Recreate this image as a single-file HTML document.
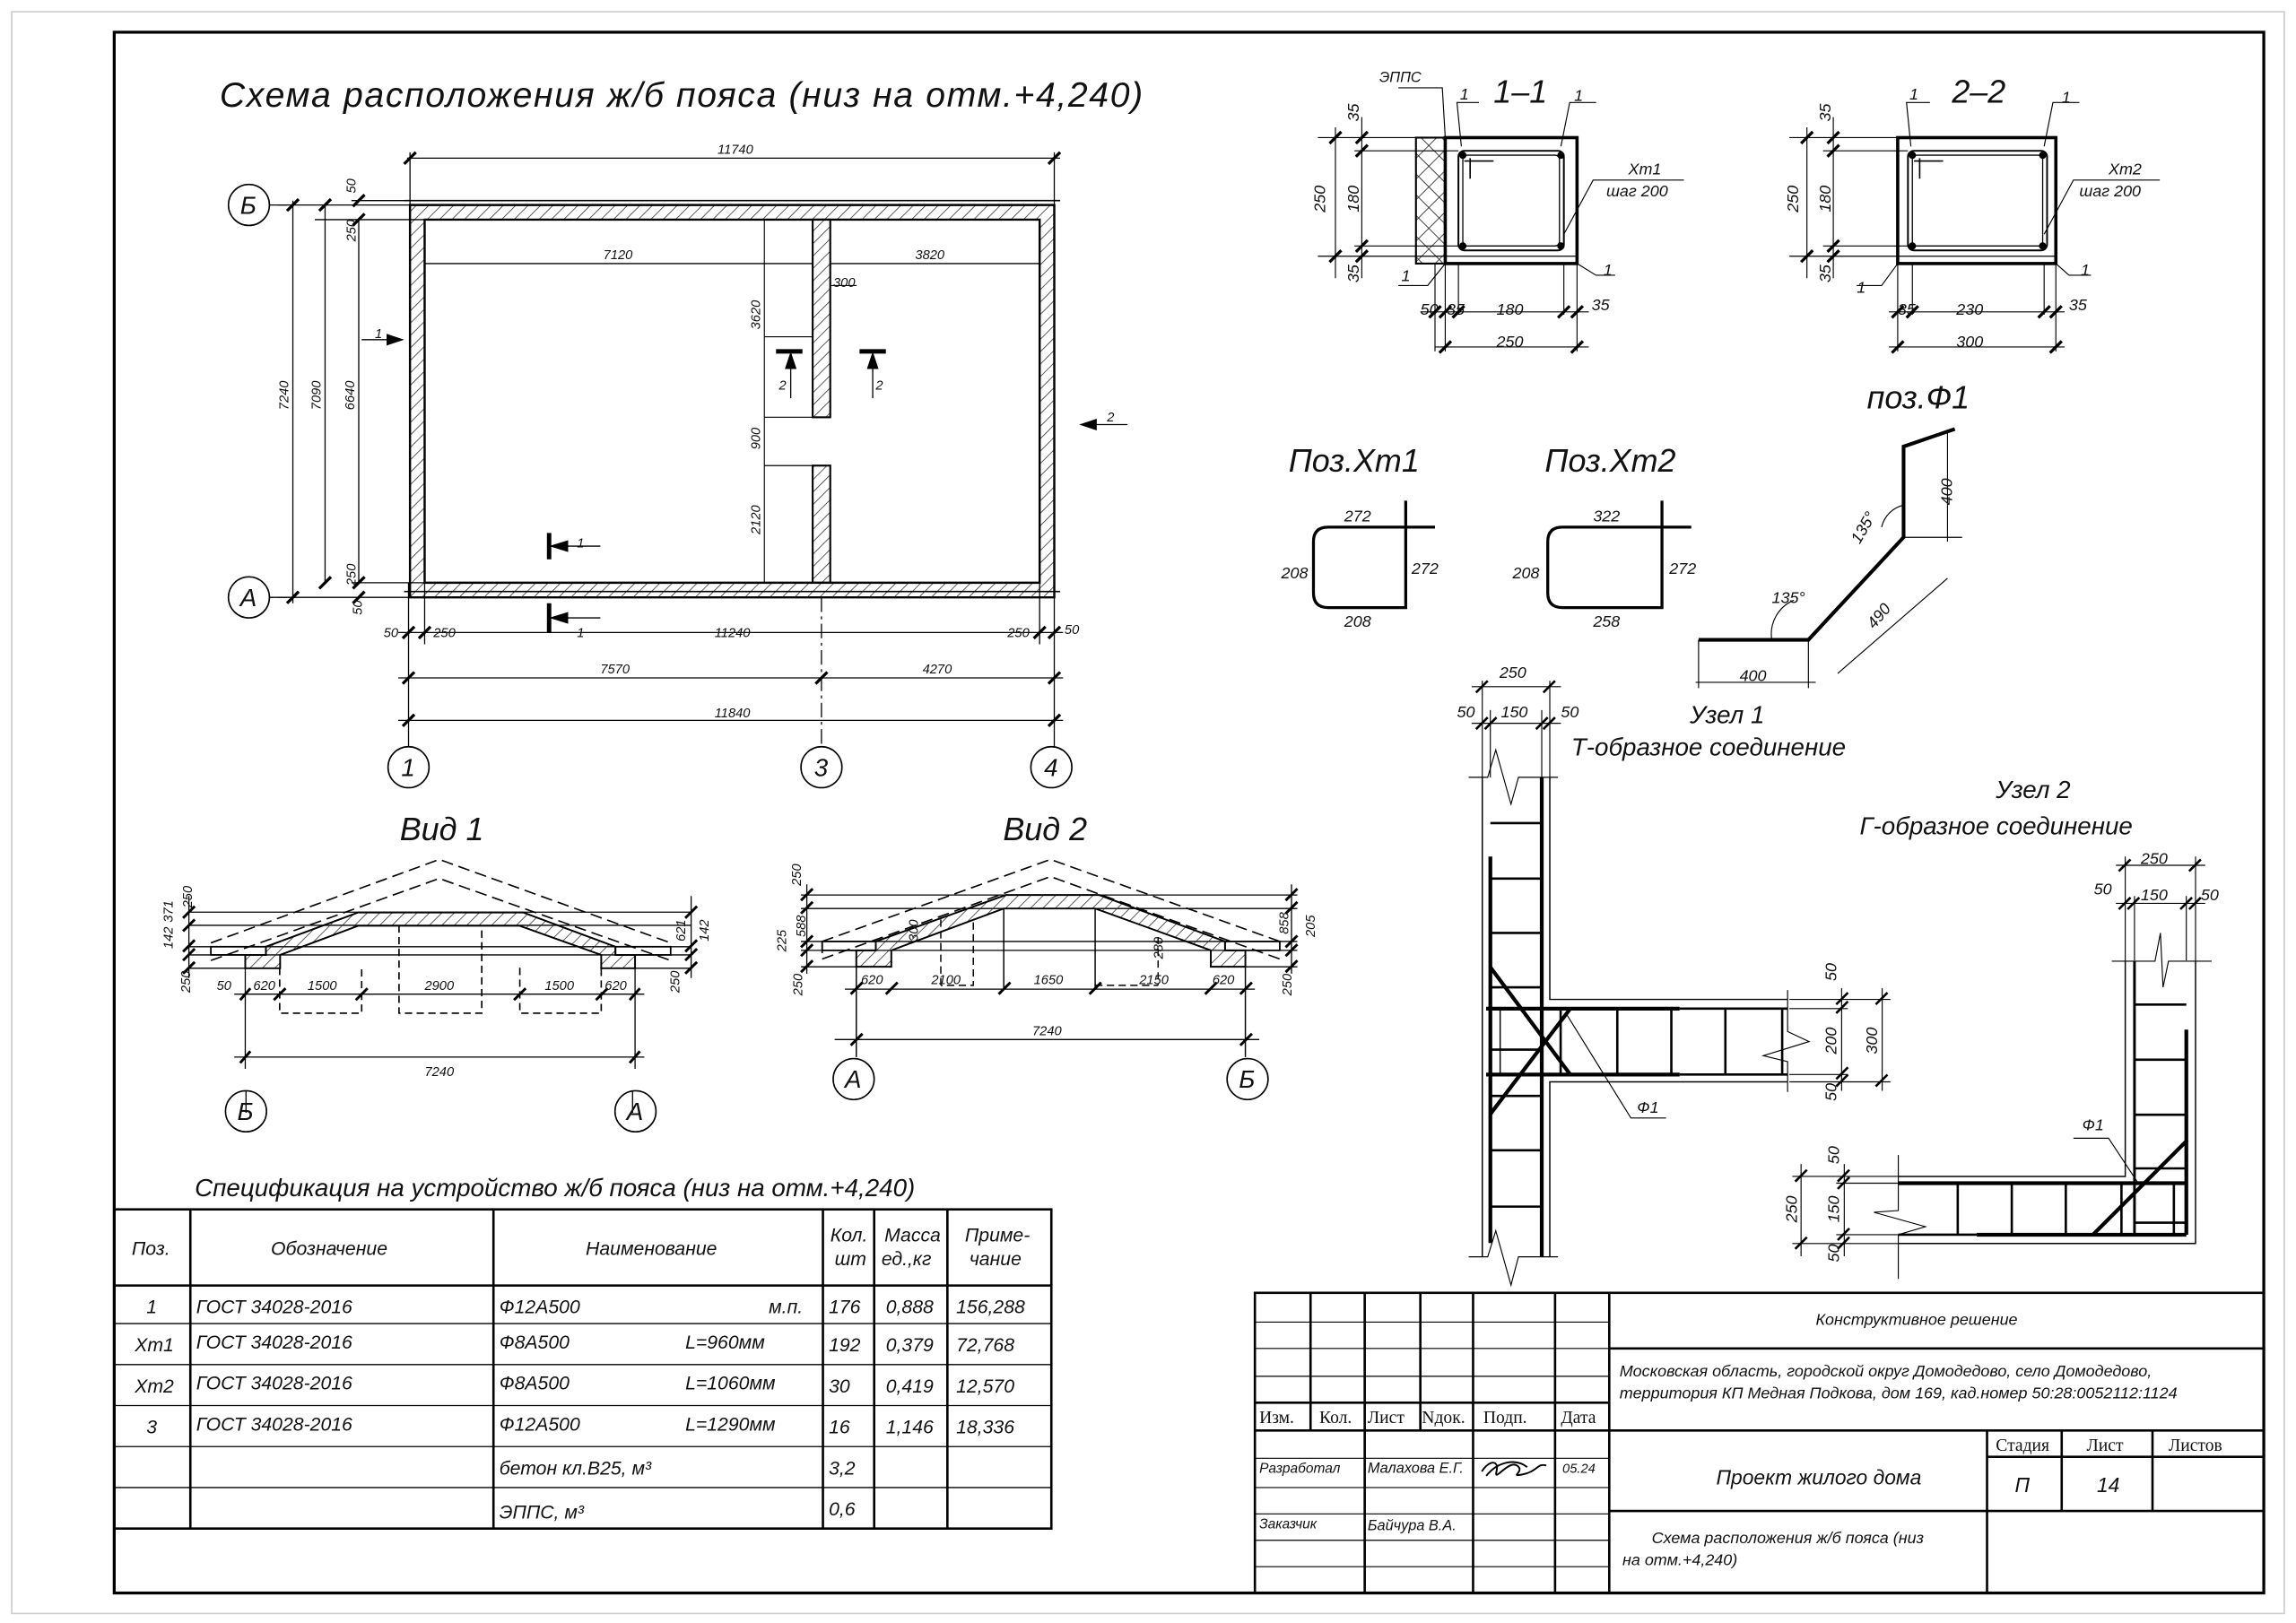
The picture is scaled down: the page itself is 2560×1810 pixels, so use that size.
<!DOCTYPE html>
<html><head><meta charset="utf-8"><style>
html,body{margin:0;padding:0;background:#fff}
svg{display:block}
text{font-family:"Liberation Sans",sans-serif;font-style:italic;fill:#111}
</style></head><body>
<svg width="2560" height="1810" viewBox="0 0 1568 1108.5" preserveAspectRatio="none" xmlns="http://www.w3.org/2000/svg">
<defs>
<pattern id="h" width="6" height="6" patternUnits="userSpaceOnUse" patternTransform="rotate(45)"><line x1="0" y1="0" x2="0" y2="6" stroke="#222" stroke-width="0.9"/></pattern>
<pattern id="x" width="10" height="10" patternUnits="userSpaceOnUse" patternTransform="rotate(45)"><path d="M0 0V10M0 0H10" stroke="#222" stroke-width="1"/></pattern>
</defs>
<rect x="0" y="0" width="1568" height="1108.5" fill="#fff"/>
<rect x="8" y="8" width="1552" height="1094" fill="none" stroke="#ccc" stroke-width="1"/>
<rect x="78" y="22" width="1468" height="1066" fill="none" stroke="#000" stroke-width="2"/>

<!-- Title -->
<text x="150" y="73" font-size="24" letter-spacing="1">Схема расположения ж/б пояса (низ на отм.+4,240)</text>

<!-- PLAN -->
<g stroke="#000" fill="none">
<path d="M280 140H720V408H280Z M290 150H710V398H290Z" fill="url(#h)" fill-rule="evenodd" stroke-width="1.5"/>
<path d="M276 137H724" stroke-width="1"/>
<path d="M276 404H724" stroke-width="1"/>
<rect x="555" y="150" width="12" height="135" fill="url(#h)" stroke-width="1.3"/>
<rect x="555" y="318" width="12" height="80" fill="url(#h)" stroke-width="1.3"/>
<path d="M290 180H555M567 180H710" stroke-width="0.8"/>
<path d="M522 150V398M522 230H555M522 285H555M522 318H555" stroke-width="0.7"/>
<path d="M278 108H724M280 104V140M720 104V140" stroke-width="0.8"/>
<path d="M276 112L284 104M716 112L724 104" stroke-width="2"/>
<path d="M200 137V412M222 140V398M245 150V398M190 140H280M190 408H280M215 150H290M240 398H290M240 137H280" stroke-width="0.8"/>
<path d="M196 144L204 136M196 412L204 404M218 144L226 136M218 402L226 394M241 154L249 146M241 402L249 394M241 141L249 133M241 412L249 404" stroke-width="2"/>
<path d="M184 140H196M184 408H196" stroke-width="0.8"/>
<path d="M272 432H726M272 463H726M272 492H726" stroke-width="0.8"/>
<path d="M279 398V510M290 398V440M710 398V440M720 398V510" stroke-width="0.8"/>
<path d="M561 408V510" stroke-dasharray="10 3 2 3" stroke-width="0.8"/>
<path d="M275 436L283 428M286 436L294 428M706 436L714 428M716 436L724 428M275 467L283 459M557 467L565 459M716 467L724 459M275 496L283 488M716 496L724 488" stroke-width="2"/>
<circle cx="170" cy="140" r="14" stroke-width="1"/><circle cx="170" cy="408" r="14" stroke-width="1"/>
<circle cx="279" cy="524" r="14" stroke-width="1"/><circle cx="561" cy="524" r="14" stroke-width="1"/><circle cx="718" cy="524" r="14" stroke-width="1"/>
<path d="M375 364V382M375 412V432" stroke-width="3"/>
<path d="M378 373H410M378 422H410" stroke-width="0.8"/>
<path d="M375 373L388 369V377Z M375 422L388 418V426Z" fill="#000" stroke="none"/>
<path d="M530 240H548M587 240H605" stroke-width="3"/>
<path d="M540 240V272M596 240V272" stroke-width="0.8"/>
<path d="M540 240L536 252H544Z M596 240L592 252H600Z" fill="#000" stroke="none"/>
<path d="M247 232H275" stroke-width="0.8"/><path d="M276 232L264 228V236Z" fill="#000" stroke="none"/>
<path d="M738 290H770" stroke-width="0.8"/><path d="M737 290L749 286V294Z" fill="#000" stroke="none"/>
<path d="M567 195H585" stroke-width="0.7"/>
</g>
<g font-size="9">
<text x="490" y="105">11740</text>
<text x="412" y="177">7120</text><text x="625" y="177">3820</text>
<text x="569" y="196">300</text>
<text x="197" y="280" transform="rotate(-90 197 280)">7240</text>
<text x="219" y="280" transform="rotate(-90 219 280)">7090</text>
<text x="242" y="280" transform="rotate(-90 242 280)">6640</text>
<text x="243" y="165" transform="rotate(-90 243 165)">250</text>
<text x="243" y="132" transform="rotate(-90 243 132)">50</text>
<text x="243" y="400" transform="rotate(-90 243 400)">250</text>
<text x="247" y="420" transform="rotate(-90 247 420)">50</text>
<text x="519" y="225" transform="rotate(-90 519 225)">3620</text>
<text x="519" y="307" transform="rotate(-90 519 307)">900</text>
<text x="519" y="365" transform="rotate(-90 519 365)">2120</text>
<text x="262" y="435">50</text><text x="296" y="435">250</text><text x="488" y="435">11240</text><text x="688" y="435">250</text><text x="727" y="433">50</text>
<text x="410" y="460">7570</text><text x="630" y="460">4270</text><text x="488" y="490">11840</text>
<text x="394" y="374">1</text><text x="394" y="435">1</text><text x="532" y="266">2</text><text x="598" y="266">2</text>
<text x="256" y="231">1</text><text x="756" y="288">2</text>
</g>
<g font-size="17"><text x="164" y="146">Б</text><text x="164" y="414">А</text><text x="274" y="530">1</text><text x="556" y="530">3</text><text x="713" y="530">4</text></g>

<!-- Вид 1 -->
<text x="273" y="574" font-size="22">Вид 1</text>
<g stroke="#000" fill="none" stroke-width="1">
<path d="M144 644L300 587L458 644M144 656L300 600L458 656" stroke-dasharray="8 4"/>
<path d="M129 623H472M129 632H472M129 646.6H472M129 652.2H472M129 661.3H191M410 661.3H472" stroke-width="0.8"/>
<rect x="144" y="646.6" width="37.6" height="5.6" stroke-width="1.1"/>
<rect x="420.3" y="646.6" width="37.7" height="5.6" stroke-width="1.1"/>
<path d="M181.6 646.6L244.6 623.2H357.3L420.3 646.6V652.2H433.7V661.3H410.6V652.2L354.9 632.3H244.6L191.3 652.2V661.3H167.5V652.2H181.6Z" fill="url(#h)" stroke-width="1.2"/>
<path d="M191 661V692H247V661M272.5 632V692H329V632M355 661V692H410.6V661" stroke-dasharray="5 3"/>
<path d="M160 679H440M160 722H440M167.5 652V730M433.7 652V730M129 612V668M472 612V668M168 745V760M432 745V760" stroke-width="0.8"/>
<path d="M164 683L171 675M187 683L195 675M243 683L251 675M351 683L359 675M407 683L415 675M430 683L437 675M164 726L171 718M430 726L437 718" stroke-width="1.8"/>
<path d="M125 627L133 619M125 636L133 628M125 650L133 642M125 656L133 648M125 665L133 657M468 627L476 619M468 650L476 642M468 656L476 648M468 665L476 657" stroke-width="1.8"/>
</g>
<g font-size="9">
<text x="148" y="676">50</text><text x="173" y="676">620</text><text x="210" y="676">1500</text><text x="290" y="676">2900</text><text x="372" y="676">1500</text><text x="413" y="676">620</text>
<text x="290" y="735">7240</text>
<text x="131" y="620" transform="rotate(-90 131 620)">250</text><text x="118" y="630" transform="rotate(-90 118 630)">371</text><text x="118" y="648" transform="rotate(-90 118 648)">142</text><text x="130" y="678" transform="rotate(-90 130 678)">250</text>
<text x="468" y="643" transform="rotate(-90 468 643)">621</text><text x="484" y="643" transform="rotate(-90 484 643)">142</text><text x="464" y="678" transform="rotate(-90 464 678)">250</text>
</g>
<circle cx="168" cy="759" r="14" fill="none" stroke="#000"/><circle cx="434" cy="759" r="14" fill="none" stroke="#000"/>
<text x="162" y="765" font-size="17">Б</text><text x="428" y="765" font-size="17">А</text>

<!-- Вид 2 -->
<text x="685" y="574" font-size="22">Вид 2</text>
<g stroke="#000" fill="none" stroke-width="1">
<path d="M561.5 643L717.4 587L874 643M561.5 655L717.4 598.7L874 655M561.5 643V655" stroke-dasharray="8 4"/>
<path d="M547 611.3H886M547 620.5H886M547 643H886M547 649.1H886M547 660.3H608M827 660.3H886" stroke-width="0.8"/>
<rect x="561.5" y="643" width="36.6" height="6.1" stroke-width="1.1"/>
<rect x="836.6" y="643" width="37.4" height="6.1" stroke-width="1.1"/>
<path d="M598.1 643L686.9 611.3H750.7L836.6 643V649.1H850.5V660.3H826.9V649.1L747.9 620.5H685.5L608.7 649.1V660.3H584.8V649.1H598.1Z" fill="url(#h)" stroke-width="1.2"/>
<path d="M685.5 620.5V676M747.9 620.5V676M584.8 660V722M850.5 660V722" stroke-width="0.9"/>
<path d="M642.5 628V673M664.7 630V673H642.5M790.9 640V673M747.9 673H790.9" stroke-dasharray="5 3" stroke-width="0.9"/>
<path d="M577 675.6H857M570 710H860M551 604V665M882 604V665" stroke-width="0.8"/>
<path d="M581 679L589 671M605 679L613 671M682 679L690 671M744 679L752 671M823 679L831 671M847 679L855 671M581 714L589 706M847 714L855 706" stroke-width="1.8"/>
<path d="M547 615L555 607M547 624L555 616M547 647L555 639M547 653L555 645M547 664L555 656M878 615L886 607M878 624L886 616M878 647L886 639M878 653L886 645M878 664L886 656" stroke-width="1.8"/>
</g>
<g font-size="9">
<text x="588" y="672">620</text><text x="636" y="672">2100</text><text x="706" y="672">1650</text><text x="778" y="672">2150</text><text x="828" y="672">620</text>
<text x="705" y="707">7240</text>
<text x="547" y="605" transform="rotate(-90 547 605)">250</text><text x="550" y="640" transform="rotate(-90 550 640)">588</text><text x="537" y="650" transform="rotate(-90 537 650)">225</text><text x="548" y="680" transform="rotate(-90 548 680)">250</text>
<text x="880" y="638" transform="rotate(-90 880 638)">858</text><text x="898" y="640" transform="rotate(-90 898 640)">205</text><text x="882" y="680" transform="rotate(-90 882 680)">250</text>
<text x="627" y="643" transform="rotate(-90 627 643)">300</text><text x="794" y="655" transform="rotate(-90 794 655)">280</text>
</g>
<circle cx="583" cy="737" r="14" fill="none" stroke="#000"/><circle cx="852" cy="737" r="14" fill="none" stroke="#000"/>
<text x="577" y="743" font-size="17">А</text><text x="846" y="743" font-size="17">Б</text>

<!-- Spec table -->
<text x="133" y="817" font-size="17">Спецификация на устройство ж/б пояса (низ на отм.+4,240)</text>
<g stroke="#000" fill="none" stroke-width="1.6">
<rect x="78" y="826" width="640" height="218"/>
<path d="M78 878H718M130 826V1044M337 826V1044M562 826V1044M597 826V1044M647 826V1044"/>
</g>
<g stroke="#000" stroke-width="0.8"><path d="M78 904H718M78 932H718M78 960H718M78 988H718M78 1016H718"/></g>
<g font-size="13">
<text x="90" y="857">Поз.</text><text x="185" y="857">Обозначение</text><text x="400" y="857">Наименование</text>
<text x="567" y="848">Кол.</text><text x="570" y="864">шт</text><text x="604" y="848">Масса</text><text x="602" y="864">ед.,кг</text><text x="659" y="848">Приме-</text><text x="662" y="864">чание</text>
<text x="100" y="897">1</text><text x="134" y="897">ГОСТ 34028-2016</text><text x="341" y="897">Ф12А500</text><text x="525" y="897">м.п.</text><text x="566" y="897">176</text><text x="605" y="897">0,888</text><text x="653" y="897">156,288</text>
<text x="92" y="923">Хт1</text><text x="134" y="921">ГОСТ 34028-2016</text><text x="341" y="921">Ф8А500</text><text x="468" y="921">L=960мм</text><text x="566" y="923">192</text><text x="605" y="923">0,379</text><text x="653" y="923">72,768</text>
<text x="92" y="951">Хт2</text><text x="134" y="949">ГОСТ 34028-2016</text><text x="341" y="949">Ф8А500</text><text x="468" y="949">L=1060мм</text><text x="566" y="951">30</text><text x="605" y="951">0,419</text><text x="653" y="951">12,570</text>
<text x="100" y="979">3</text><text x="134" y="977">ГОСТ 34028-2016</text><text x="341" y="977">Ф12А500</text><text x="468" y="977">L=1290мм</text><text x="566" y="979">16</text><text x="605" y="979">1,146</text><text x="653" y="979">18,336</text>
<text x="341" y="1007">бетон кл.В25, м³</text><text x="566" y="1007">3,2</text>
<text x="341" y="1037">ЭППС, м³</text><text x="566" y="1035">0,6</text>
</g>

<!-- Section 1-1 -->
<g stroke="#000" fill="none">
<rect x="967" y="94" width="20" height="86" fill="url(#x)" stroke-width="1.3"/>
<rect x="987" y="94" width="90" height="86" stroke-width="2.2"/>
<rect x="996" y="103" width="72" height="68" rx="4" stroke-width="1.2"/>
<rect x="999" y="106" width="66" height="62" rx="3" stroke-width="0.8"/>
<path d="M1000 110H1020M1004 108V122" stroke-width="1"/>
<path d="M900 94H987M900 175H1077M925 103H996M925 168H996M912 87V190M930 80V190M980 180V240M987 180V240M1077 180V240M996 180V215M1068 180V215M970 213H1085M980 237H1085" stroke-width="0.7"/>
<path d="M1068 160L1088 123H1150" stroke-width="0.7"/>
<path d="M908 98L916 90M926 98L934 90M926 107L934 99M926 172L934 164M908 179L916 171M926 179L934 171M976 217L984 209M983 217L991 209M992 217L1000 209M1064 217L1072 209M1073 217L1081 209M983 241L991 233M1073 241L1081 233" stroke-width="2"/>
<path d="M955 60H985L987 94M998 100L995 70H1010M1066 100L1072 70H1090M1077 180L1090 188H1103M987 180L975 195H955" stroke-width="0.7"/>
</g>
<g fill="#000"><circle cx="999" cy="106" r="2.5"/><circle cx="1066" cy="106" r="2.5"/><circle cx="999" cy="168" r="2.5"/><circle cx="1066" cy="168" r="2.5"/></g>
<text x="1020" y="70" font-size="22">1–1</text><text x="942" y="56" font-size="10">ЭППС</text>
<g font-size="11"><text x="997" y="68">1</text><text x="1075" y="69">1</text><text x="1095" y="188">1</text><text x="957" y="192">1</text>
<text x="1112" y="119">Хт1</text><text x="1097" y="134">шаг 200</text>
<text x="905" y="145" transform="rotate(-90 905 145)">250</text><text x="928" y="145" transform="rotate(-90 928 145)">180</text><text x="928" y="83" transform="rotate(-90 928 83)">35</text><text x="928" y="193" transform="rotate(-90 928 193)">35</text>
<text x="970" y="215">50</text><text x="988" y="215">35</text><text x="1022" y="215">180</text><text x="1087" y="212">35</text><text x="1022" y="237">250</text></g>

<!-- Section 2-2 -->
<g stroke="#000" fill="none">
<rect x="1296" y="94" width="108" height="86" stroke-width="2.2"/>
<rect x="1303" y="103" width="95" height="68" rx="4" stroke-width="1.2"/>
<rect x="1306" y="106" width="89" height="62" rx="3" stroke-width="0.8"/>
<path d="M1307 110H1327M1311 108V122" stroke-width="1"/>
<path d="M1222 94H1296M1222 175H1404M1245 103H1303M1245 168H1303M1234 87V190M1252 80V190M1296 180V240M1306 180V215M1396 180V215M1404 180V240M1290 213H1410M1290 237H1410M1305 100L1302 70H1318M1396 100L1402 70H1420M1404 180L1413 188H1428M1296 180L1285 195H1268" stroke-width="0.7"/>
<path d="M1396 160L1416 123H1475" stroke-width="0.7"/>
<path d="M1230 98L1238 90M1248 98L1256 90M1248 107L1256 99M1248 172L1256 164M1230 179L1238 171M1248 179L1256 171M1292 217L1300 209M1302 217L1310 209M1392 217L1400 209M1400 217L1408 209M1292 241L1300 233M1400 241L1408 233" stroke-width="2"/>
</g>
<g fill="#000"><circle cx="1306" cy="106" r="2.5"/><circle cx="1395" cy="106" r="2.5"/><circle cx="1306" cy="168" r="2.5"/><circle cx="1395" cy="168" r="2.5"/></g>
<text x="1333" y="70" font-size="22">2–2</text>
<g font-size="11"><text x="1304" y="68">1</text><text x="1408" y="70">1</text><text x="1421" y="188">1</text><text x="1268" y="200">1</text>
<text x="1440" y="119">Хт2</text><text x="1420" y="134">шаг 200</text>
<text x="1228" y="145" transform="rotate(-90 1228 145)">250</text><text x="1250" y="145" transform="rotate(-90 1250 145)">180</text><text x="1250" y="83" transform="rotate(-90 1250 83)">35</text><text x="1250" y="193" transform="rotate(-90 1250 193)">35</text>
<text x="1296" y="215">35</text><text x="1336" y="215">230</text><text x="1413" y="212">35</text><text x="1336" y="237">300</text></g>

<!-- Поз Xt -->
<text x="880" y="322" font-size="22">Поз.Хт1</text><text x="1055" y="322" font-size="22">Поз.Хт2</text>
<text x="1275" y="279" font-size="22">поз.Ф1</text>
<g stroke="#000" fill="none" stroke-width="2">
<path d="M960 342V415H907Q897 415 897 405V370Q897 360 907 360H980"/>
<path d="M1135 342V415H1067Q1057 415 1057 405V370Q1057 360 1067 360H1155"/>
<path d="M1160 437H1235L1300 367V305L1335 293" stroke-width="2.5"/>
</g>
<g stroke="#000" fill="none" stroke-width="0.7">
<path d="M1160 437V470M1235 437V470M1158 466H1240M1300 367H1340M1330 295V370M1255 460L1330 395M1210 437A25 25 0 0 1 1225 410M1285 360A20 20 0 0 1 1300 345"/>
</g>
<g font-size="11">
<text x="918" y="356">272</text><text x="964" y="392">272</text><text x="875" y="395">208</text><text x="918" y="428">208</text>
<text x="1088" y="356">322</text><text x="1140" y="392">272</text><text x="1033" y="395">208</text><text x="1088" y="428">258</text>
<text x="1188" y="465">400</text><text x="1333" y="345" transform="rotate(-90 1333 345)">400</text>
<text x="1280" y="430" transform="rotate(-50 1280 430)">490</text>
<text x="1210" y="412">135°</text><text x="1270" y="372" transform="rotate(-60 1270 372)">135°</text>
</g>

<!-- Узел 1 -->
<text x="1154" y="494" font-size="17">Узел 1</text><text x="1073" y="516" font-size="17">Т-образное соединение</text>
<g stroke="#000" fill="none">
<path d="M1012.3 531V858M1058.4 531V682.6H1220.8M1058.4 858V738.9H1220.8" stroke-width="0.9"/>
<path d="M1003 530.9H1016L1021.5 512.2L1031.9 549.3L1037 530.9H1064M1003 858.4H1016L1021.5 840.6L1031.9 877.7L1037 858.4H1064" stroke-width="0.7"/>
<path d="M1220.8 676.2V704.5L1235.5 711.4L1204.2 721L1220.8 725.1V745.8" stroke-width="0.7"/>
<path d="M1017.8 585V849M1052.9 531V858" stroke-width="2.6"/>
<path d="M1017.8 562.2H1052.9M1017.8 600.1H1052.9M1017.8 637.2H1052.9M1017.8 674.3H1052.9M1017.8 716.9H1052.9M1017.8 748.5H1052.9M1017.8 785.6H1052.9M1017.8 824.1H1052.9" stroke-width="1.6"/>
<path d="M1014.9 688.9H1147M1014.9 733.9H1147" stroke-width="2.6"/>
<path d="M1147 688.9H1220.8M1147 733.9H1220.8M1065.8 688.9V733.9M1104.5 688.9V733.9M1141.4 688.9V733.9M1178.3 688.9V733.9M1217.1 688.9V733.9" stroke-width="1.6"/>
<path d="M1024.5 688.9V733.9" stroke-width="0.9"/>
<path d="M1017.8 660.6L1072.4 733.9M1017.8 760.9L1072.4 688.9" stroke-width="2.6"/>
<path d="M1069.5 692.2L1113.8 763.6H1137.8" stroke-width="0.7"/>
<path d="M1012.3 465V531M1017.8 485V531M1052.9 485V531M1058.4 465V531M1005 469H1066M1005 494H1066" stroke-width="0.7"/>
<path d="M1008 473L1016 465M1054 473L1062 465M1008 498L1016 490M1014 498L1022 490M1049 498L1057 490M1054 498L1062 490" stroke-width="1.6"/>
<path d="M1222 682.6H1291M1222 688.9H1262M1222 733.9H1262M1222 738.9H1291M1257.7 675V745M1285.4 675V745" stroke-width="0.7"/>
<path d="M1254 686L1262 678M1254 692L1262 684M1254 737L1262 729M1254 742L1262 734M1281 686L1289 678M1281 742L1289 734" stroke-width="1.6"/>
</g>
<g font-size="11"><text x="1024" y="463">250</text><text x="995" y="490">50</text><text x="1025" y="490">150</text><text x="1066" y="490">50</text>
<text x="1254" y="670" transform="rotate(-90 1254 670)">50</text><text x="1254" y="720" transform="rotate(-90 1254 720)">200</text><text x="1282" y="720" transform="rotate(-90 1282 720)">300</text><text x="1254" y="752" transform="rotate(-90 1254 752)">50</text><text x="1118" y="760">Ф1</text></g>

<!-- Узел 2 -->
<text x="1363" y="545" font-size="17">Узел 2</text><text x="1270" y="570" font-size="17">Г-образное соединение</text>
<g stroke="#000" fill="none">
<path d="M1451.4 656V803.5H1296.4M1499.4 656V849.3H1296.4" stroke-width="0.9"/>
<path d="M1442.2 656.5H1471.7L1475.4 637.2L1477.2 674.3L1480.9 656.5H1510.4" stroke-width="0.7"/>
<path d="M1296.4 788.9V826.8L1279.8 828L1314.9 837.8L1296.4 843.3V873.5" stroke-width="0.7"/>
<path d="M1457.7 656.5V843.3" stroke-width="1.8"/>
<path d="M1493.1 703.2V843.3M1296.4 808.1H1493.1M1350 843.3H1493.1" stroke-width="2.6"/>
<path d="M1296.4 843.3H1350" stroke-width="1.6"/>
<path d="M1457.7 686.1H1493.1M1457.7 723.8H1493.1M1457.7 761.4H1493.1M1457.7 798H1493.1M1457.7 835.1H1493.1M1337 808V843M1373.9 808V843M1410.8 808V843M1448.8 808V843M1484.6 808V843" stroke-width="1.6"/>
<path d="M1429.3 843.3L1493.8 778.7" stroke-width="2.6"/>
<path d="M1416 777.4H1440L1459.9 807.6" stroke-width="0.7"/>
<path d="M1451.4 585V656M1457.7 612V656M1493.1 612V656M1499.4 585V656M1445 591H1506M1445 617H1506" stroke-width="0.7"/>
<path d="M1447 595L1455 587M1495 595L1503 587M1447 621L1455 613M1453 621L1461 613M1489 621L1497 613M1495 621L1503 613" stroke-width="1.6"/>
<path d="M1224 803.5H1296M1254 808.1H1296M1254 843.3H1296M1224 849.3H1296M1230 795V858M1259.5 795V858" stroke-width="0.7"/>
<path d="M1226 807L1234 799M1226 853L1234 845M1255 807L1263 799M1255 812L1263 804M1255 847L1263 839M1255 853L1263 845" stroke-width="1.6"/>
</g>
<g font-size="11"><text x="1462" y="590">250</text><text x="1430" y="611">50</text><text x="1462" y="615">150</text><text x="1503" y="615">50</text>
<text x="1256" y="795" transform="rotate(-90 1256 795)">50</text><text x="1256" y="835" transform="rotate(-90 1256 835)">150</text><text x="1227" y="835" transform="rotate(-90 1227 835)">250</text><text x="1256" y="862" transform="rotate(-90 1256 862)">50</text><text x="1422" y="772">Ф1</text></g>

<!-- Title block -->
<g stroke="#000" fill="none" stroke-width="1.6">
<rect x="857" y="883" width="689" height="205"/>
<path d="M895 883V977M932 883V1088M970 883V977M1006 883V1088M1062 883V1088M1099 883V1088M857 958H1099M857 977H1546M1099 921H1546M1357 977V1088M1408 977V1032M1470 977V1032M1357 995H1546M1099 1032H1546"/>
</g>
<g stroke="#000" stroke-width="0.7"><path d="M857 903H1099M857 921H1099M857 940H1099M857 996H1099M857 1016H1099M857 1034H1099M857 1052H1099M857 1070H1099"/></g>
<g font-size="11"><text x="1240" y="905">Конструктивное решение</text>
<text x="1106" y="940">Московская область, городской округ Домодедово, село Домодедово,</text>
<text x="1106" y="955">территория КП Медная Подкова, дом 169, кад.номер 50:28:0052112:1124</text>
<text x="860" y="1006" font-size="9.5">Разработал</text><text x="934" y="1006" font-size="10">Малахова Е.Г.</text><text x="1067" y="1006" font-size="9">05.24</text>
<text x="860" y="1044" font-size="9.5">Заказчик</text><text x="934" y="1045" font-size="10">Байчура В.А.</text>
<text x="1128" y="1054">Схема расположения ж/б пояса (низ</text><text x="1108" y="1069">на отм.+4,240)</text>
</g>
<path d="M1012 1005c5-8 12-8 10 0s8-8 14-4-6 8 4 6 10-8 16-6M1015 1008c8-10 20-12 28-6" fill="none" stroke="#000" stroke-width="1.2"/>
<g font-size="12">
<text x="860" y="972" style="font-style:normal;font-family:'Liberation Serif'">Изм.</text><text x="901" y="972" style="font-style:normal;font-family:'Liberation Serif'">Кол.</text><text x="934" y="972" style="font-style:normal;font-family:'Liberation Serif'">Лист</text><text x="971" y="972" style="font-style:normal;font-family:'Liberation Serif'">Nдок.</text><text x="1013" y="972" style="font-style:normal;font-family:'Liberation Serif'">Подп.</text><text x="1066" y="972" style="font-style:normal;font-family:'Liberation Serif'">Дата</text>
<text x="1363" y="991" style="font-style:normal;font-family:'Liberation Serif'">Стадия</text><text x="1425" y="991" style="font-style:normal;font-family:'Liberation Serif'">Лист</text><text x="1481" y="991" style="font-style:normal;font-family:'Liberation Serif'">Листов</text>
</g>
<text x="1172" y="1014" font-size="14">Проект жилого дома</text>
<text x="1376" y="1019" font-size="14">П</text><text x="1432" y="1019" font-size="14">14</text>
</svg>
</body></html>
